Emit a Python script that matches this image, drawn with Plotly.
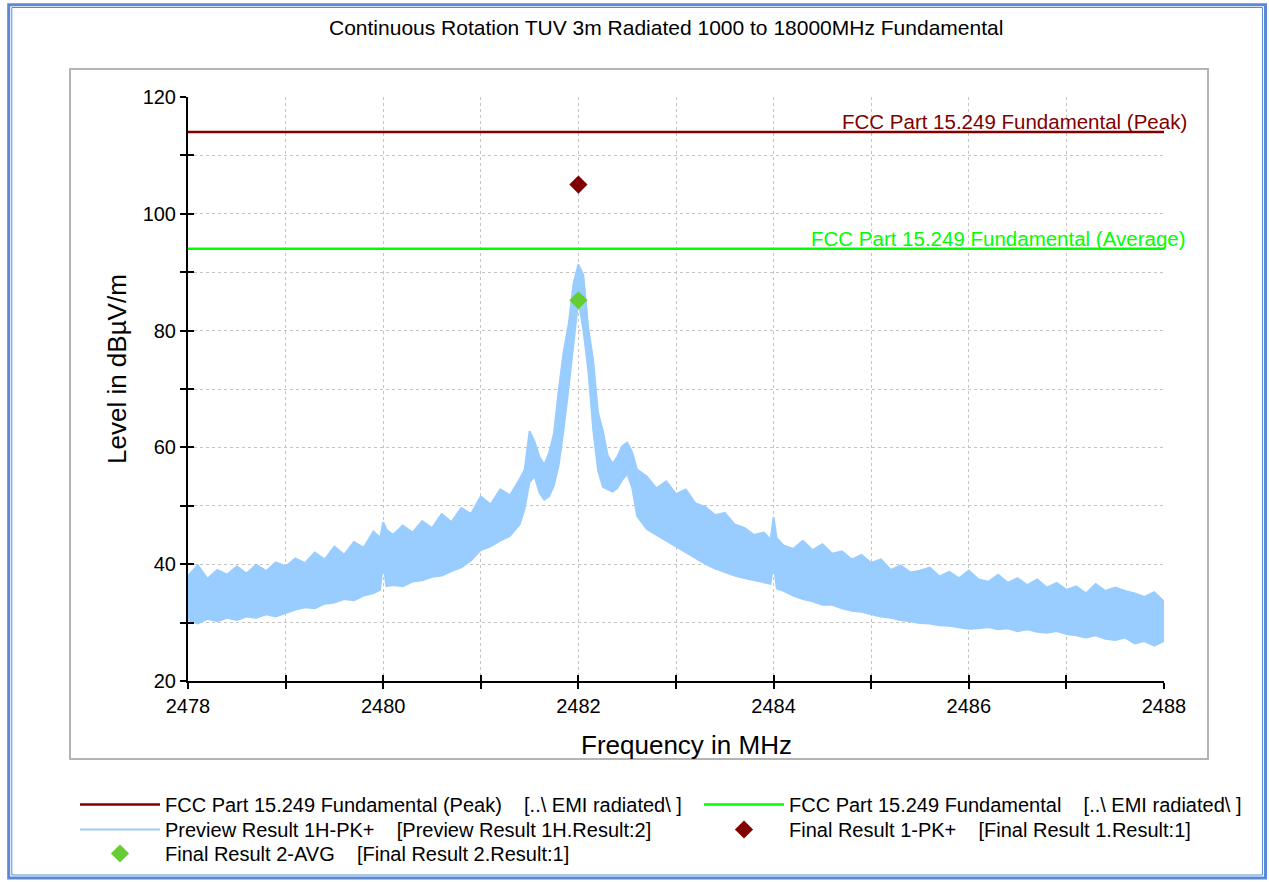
import plotly.graph_objects as go

# ---------------- data ----------------
title_text = "Continuous Rotation TUV 3m Radiated 1000 to 18000MHz Fundamental"
x_title = "Frequency in MHz"
y_title = "Level in dBµV/m"

limit_peak = 114.0
limit_avg = 94.0
limit_range = [2478.0, 2488.0]
y_range = [20, 120]

final_pk_freq = [2482.0]
final_pk_level = [105.0]
final_avg_freq = [2482.0]
final_avg_level = [85.2]

# Preview spectrum (read as upper / lower edges of the trace band)
spec_freq = [
    2478.0, 2478.1, 2478.2, 2478.3, 2478.4, 2478.5, 2478.6, 2478.7, 2478.8, 2478.9,
    2479.0, 2479.1, 2479.2, 2479.3, 2479.4, 2479.5, 2479.6, 2479.7, 2479.8, 2479.9,
    2479.97, 2480.0, 2480.03, 2480.1, 2480.2, 2480.3, 2480.4, 2480.5, 2480.6, 2480.7,
    2480.8, 2480.9, 2481.0, 2481.1, 2481.2, 2481.3, 2481.4, 2481.45, 2481.5, 2481.55,
    2481.6, 2481.65, 2481.7, 2481.75, 2481.8, 2481.85, 2481.9, 2481.95, 2482.0, 2482.05,
    2482.1, 2482.15, 2482.2, 2482.25, 2482.3, 2482.35, 2482.4, 2482.45, 2482.5, 2482.55,
    2482.6, 2482.7, 2482.8, 2482.9, 2483.0, 2483.1, 2483.2, 2483.3, 2483.4, 2483.5,
    2483.6, 2483.7, 2483.8, 2483.9, 2483.97, 2484.0, 2484.03, 2484.1, 2484.2, 2484.3,
    2484.4, 2484.5, 2484.6, 2484.7, 2484.8, 2484.9, 2485.0, 2485.1, 2485.2, 2485.3,
    2485.4, 2485.5, 2485.6, 2485.7, 2485.8, 2485.9, 2486.0, 2486.1, 2486.2, 2486.3,
    2486.4, 2486.5, 2486.6, 2486.7, 2486.8, 2486.9, 2487.0, 2487.1, 2487.2, 2487.3,
    2487.4, 2487.5, 2487.6, 2487.7, 2487.8, 2487.9, 2488.0,
]
spec_upper = [
    38.0, 39.8, 37.5, 39.0, 38.2, 39.6, 38.4, 39.9, 38.8, 40.3,
    39.6, 41.0, 40.2, 42.0, 40.8, 43.0, 41.6, 43.8, 42.8, 45.6,
    44.5, 47.2, 46.0, 45.0, 46.6, 45.4, 47.4, 46.2, 48.6, 47.2,
    49.6, 48.6, 51.6, 50.2, 52.8, 51.8, 54.6, 56.2, 62.8, 61.0,
    58.4, 57.0, 59.0, 62.4, 70.0, 76.5, 81.0, 88.0, 91.3, 89.5,
    80.5, 75.0, 66.0, 62.8, 58.6, 57.2, 58.4, 60.2, 60.8, 59.2,
    56.2, 55.0, 53.0, 54.2, 52.0, 52.8, 50.4, 49.8, 48.4, 48.8,
    46.8, 46.2, 45.0, 45.4, 44.2, 48.0, 44.5, 43.2, 42.6, 44.0,
    42.4, 43.4, 41.8, 42.2, 40.8, 41.6, 40.2, 40.8, 39.0, 39.8,
    38.6, 38.9, 39.4, 37.9, 38.7, 37.6, 38.9, 37.4, 37.0, 38.2,
    36.8, 37.6, 36.4, 37.4, 36.0, 36.8, 35.6, 36.2, 35.0, 36.6,
    35.4, 36.0, 35.4, 35.0, 34.4, 35.2, 33.6,
]
spec_lower = [
    30.4, 29.8, 30.6, 30.2, 30.8, 30.4, 31.0, 30.8, 31.4, 31.0,
    31.6, 32.2, 32.6, 32.4, 33.2, 33.4, 34.0, 33.8, 34.6, 35.0,
    35.6, 40.0, 36.2, 36.4, 36.2, 37.0, 37.2, 37.8, 38.0, 38.8,
    39.4, 40.6, 42.4, 43.0, 44.0, 44.8, 46.8, 49.4, 54.0, 55.0,
    52.2, 51.0, 51.6, 53.4, 57.0, 63.0, 70.0, 78.0, 85.0, 80.0,
    73.0, 63.0, 56.0, 53.2, 52.8, 52.4, 53.0, 54.4, 55.4, 53.0,
    48.2, 46.0, 45.0, 44.0, 43.0, 42.0, 41.0, 40.0, 39.2, 38.6,
    38.0, 37.6, 37.2, 36.8, 36.6, 40.0, 35.8, 35.4, 34.6, 34.0,
    33.6, 33.0, 33.0, 32.4, 32.0, 31.8, 31.4, 31.0, 30.8, 30.4,
    30.2, 29.9, 29.8, 29.5, 29.4, 29.2, 28.9, 29.0, 29.2, 28.8,
    29.0, 28.5, 28.8, 28.4, 28.2, 28.5, 28.0, 27.8, 27.4, 27.8,
    27.2, 27.0, 27.4, 26.4, 26.8, 26.0, 26.8,
]

legend_names = [
    "FCC Part 15.249 Fundamental (Peak)   [..\\ EMI radiated\\ ]",
    "FCC Part 15.249 Fundamental   [..\\ EMI radiated\\ ]",
    "Preview Result 1H-PK+   [Preview Result 1H.Result:2]",
    "Final Result 1-PK+   [Final Result 1.Result:1]",
    "Final Result 2-AVG   [Final Result 2.Result:1]",
]
peak_label = "FCC Part 15.249 Fundamental (Peak)"
avg_label = "FCC Part 15.249 Fundamental (Average)"

# ---------------- styling ----------------
W, H = 1269, 882
PL, PR, PT, PB = 188, 1164, 97, 681
FONT = "Liberation Sans, Arial, sans-serif"
C_PEAK = "#800000"
C_AVG = "#00ff00"
C_SPEC = "#99ccff"
C_FAVG = "#66cc33"
LEG_ITEM_W = 80
LEG_FONT = 20


def nb(s):
    return s.replace("   ", "\u00a0\u00a0\u00a0\u00a0")


def xp(px):
    return (px - PL) / (PR - PL)


def yp(py):
    return (PB - py) / (PB - PT)


fig = go.Figure()

fig.add_trace(go.Scatter(
    x=limit_range, y=[limit_peak, limit_peak], mode="lines",
    line=dict(color=C_PEAK, width=2.5), name=nb(legend_names[0]), legend="legend"))
fig.add_trace(go.Scatter(
    x=limit_range, y=[limit_avg, limit_avg], mode="lines",
    line=dict(color=C_AVG, width=2.5), name=nb(legend_names[1]), legend="legend2"))
fig.add_trace(go.Scatter(
    x=spec_freq, y=spec_upper, mode="lines",
    line=dict(color=C_SPEC, width=2), name=nb(legend_names[2]), legend="legend3"))
fig.add_trace(go.Scatter(
    x=spec_freq, y=spec_lower, mode="lines", fill="tonexty",
    fillcolor=C_SPEC, line=dict(color=C_SPEC, width=1.5), showlegend=False))
fig.add_trace(go.Scatter(
    x=final_pk_freq, y=final_pk_level, mode="markers",
    marker=dict(symbol="diamond", size=14, color=C_PEAK), name=nb(legend_names[3]),
    legend="legend4"))
fig.add_trace(go.Scatter(
    x=final_avg_freq, y=final_avg_level, mode="markers",
    marker=dict(symbol="diamond", size=14, color=C_FAVG), name=nb(legend_names[4]),
    legend="legend5"))

# invisible helper traces so the overlay axes (inner half of the ticks) are drawn
fig.add_trace(go.Scatter(x=limit_range, y=[limit_peak, limit_peak], xaxis="x2", yaxis="y",
                         mode="lines", line=dict(width=0, color="rgba(0,0,0,0)"),
                         showlegend=False, hoverinfo="skip"))
fig.add_trace(go.Scatter(x=limit_range, y=[limit_peak, limit_peak], xaxis="x", yaxis="y2",
                         mode="lines", line=dict(width=0, color="rgba(0,0,0,0)"),
                         showlegend=False, hoverinfo="skip"))

axis_common = dict(
    showline=True, linecolor="black", linewidth=2, mirror=False,
    ticks="outside", ticklen=6, tickwidth=1.5, tickcolor="black",
    showgrid=True, gridcolor="#c4c4c4", griddash="dot", gridwidth=1,
    zeroline=False, tickfont=dict(family=FONT, size=20, color="black"),
)

fig.update_layout(
    xaxis=dict(range=limit_range, dtick=2, tick0=2478,
               minor=dict(dtick=1, ticks="outside", ticklen=6, tickcolor="black",
                          showgrid=True, gridcolor="#c4c4c4", griddash="dot"),
               **axis_common),
    yaxis=dict(range=y_range, dtick=20, tick0=20,
               minor=dict(dtick=10, ticks="outside", ticklen=6, tickcolor="black",
                          showgrid=True, gridcolor="#c4c4c4", griddash="dot"),
               **axis_common),
    xaxis2=dict(range=limit_range, overlaying="x", anchor="y", side="bottom",
                dtick=1, tick0=2478, ticks="inside", ticklen=6, tickwidth=1.5,
                tickcolor="black", showticklabels=False, showgrid=False,
                showline=False, zeroline=False),
    yaxis2=dict(range=y_range, overlaying="y", anchor="x", side="left",
                dtick=10, tick0=20, ticks="inside", ticklen=6, tickwidth=1.5,
                tickcolor="black", showticklabels=False, showgrid=False,
                showline=False, zeroline=False),
)

shapes = [
    dict(type="rect", xref="paper", yref="paper", x0=xp(70), x1=xp(1208),
         y0=yp(759), y1=yp(69), line=dict(color="#b4b4b4", width=2)),
    dict(type="rect", xref="paper", yref="paper", x0=xp(8.7), x1=xp(1265.5),
         y0=yp(878), y1=yp(4.7), line=dict(color="#5a8ad6", width=3)),
    dict(type="rect", xref="paper", yref="paper", x0=xp(11.8), x1=xp(1262.5),
         y0=yp(875), y1=yp(7.5), line=dict(color="#5a8ad6", width=1)),
]

annotations = [
    dict(text=title_text, xref="paper", yref="paper", x=xp(666), y=yp(27),
         xanchor="center", yanchor="middle",
         showarrow=False, font=dict(family=FONT, size=21, color="black")),
    dict(text=x_title, xref="paper", yref="paper", x=xp(686), y=yp(745),
         xanchor="center", yanchor="middle",
         showarrow=False, font=dict(family=FONT, size=26, color="black")),
    dict(text=y_title, xref="paper", yref="paper", x=xp(117), y=yp(369),
         xanchor="center", yanchor="middle",
         textangle=-90, showarrow=False, font=dict(family=FONT, size=26, color="black")),
    dict(text=peak_label, xref="x", yref="y", x=limit_range[1], y=limit_peak,
         xanchor="right", yanchor="bottom", xshift=25, yshift=-3, showarrow=False,
         font=dict(family=FONT, size=20.5, color=C_PEAK)),
    dict(text=avg_label, xref="x", yref="y", x=limit_range[1], y=limit_avg,
         xanchor="right", yanchor="bottom", xshift=24, yshift=-3, showarrow=False,
         font=dict(family=FONT, size=20.5, color=C_AVG)),
]

legend_common = dict(orientation="v", xanchor="left", yanchor="top",
                     bgcolor="rgba(0,0,0,0)", traceorder="normal",
                     font=dict(family=FONT, size=LEG_FONT, color="black"),
                     itemwidth=LEG_ITEM_W, tracegroupgap=0)

fig.update_layout(
    width=W, height=H, autosize=False,
    margin=dict(l=PL, r=W - PR, t=PT, b=H - PB, pad=0, autoexpand=False),
    paper_bgcolor="white", plot_bgcolor="white",
    font=dict(family=FONT, color="black"),
    shapes=shapes, annotations=annotations,
    showlegend=True,
    legend=dict(x=xp(75), y=yp(785), **legend_common),
    legend2=dict(x=xp(699), y=yp(785), **legend_common),
    legend3=dict(x=xp(75), y=yp(810), **legend_common),
    legend4=dict(x=xp(699), y=yp(810), **legend_common),
    legend5=dict(x=xp(75), y=yp(834), **legend_common),
)

fig.write_html("out.html", config={"displayModeBar": False},
               post_script="document.body.style.margin='0';document.body.style.overflow='hidden';")
